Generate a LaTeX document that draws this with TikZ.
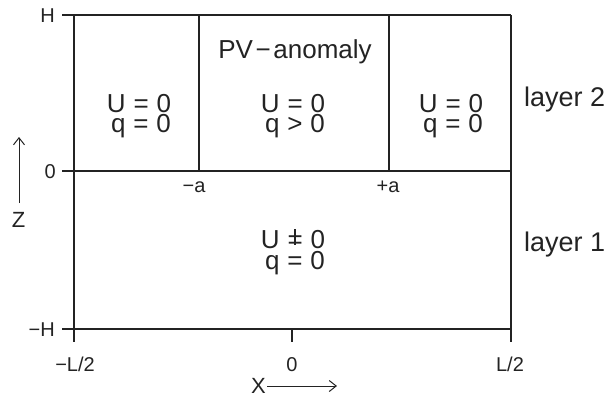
\documentclass[tikz,border=0pt]{standalone}
\usepackage{fontspec}
\setmainfont{Liberation Sans}
\usetikzlibrary{arrows.meta}
\definecolor{ink}{RGB}{35,35,35}
\newcommand{\neqbar}{\ooalign{=\cr\hidewidth\rule[0.12em]{0.07em}{0.6em}\hidewidth\cr}}
\newcommand{\gapsp}{\hspace{0.3em}}
\tikzset{
  frame/.style={line width=1.9pt, draw=ink},
  big/.style={inner sep=0pt, anchor=base, text=ink, font=\fontsize{26}{26}\selectfont},
  pair/.style={inner sep=0pt, anchor=base, text=ink, align=center, font=\fontsize{26}{20}\selectfont},
  lay/.style={inner sep=0pt, anchor=base west, text=ink, font=\fontsize{27}{27}\selectfont},
  small/.style={inner sep=0pt, anchor=base, text=ink, font=\fontsize{20}{20}\selectfont},
  axlbl/.style={inner sep=0pt, anchor=base, text=ink, font=\fontsize{22}{22}\selectfont},
  axarrow/.style={line width=1pt, draw=ink, -{Straight Barb[length=7pt,width=11pt,line width=1pt]}},
}
\begin{document}
\begin{tikzpicture}[x=1pt,y=-1pt]
\useasboundingbox (0,0) rectangle (609,397);
% frame coordinates
\coordinate (tl) at (74,15);
\coordinate (tr) at (511,15);
\coordinate (tlt) at (62,15);
\coordinate (ml) at (62,171);
\coordinate (mr) at (511,171);
\coordinate (bl) at (62,329);
\coordinate (br) at (511,329);
\coordinate (lbot) at (74,342);
\coordinate (rbot) at (511,342);
\coordinate (ctop) at (292,329);
\coordinate (cbot) at (292,342);
\coordinate (atop) at (199,15);
\coordinate (abot) at (199,171);
\coordinate (btop) at (389,15);
\coordinate (bbot) at (389,171);
% lines
\draw[frame] (tlt) -- (tr);
\draw[frame] (ml) -- (mr);
\draw[frame] (bl) -- (br);
\draw[frame] (tl) -- (lbot);
\draw[frame] (tr) -- (rbot);
\draw[frame] (ctop) -- (cbot);
\draw[frame] (atop) -- (abot);
\draw[frame] (btop) -- (bbot);
% region texts
\node[big] (pv) at (295,58) {PV\hspace{0.1em}−\hspace{0.1em}anomaly};
\node[pair] (c1) at (139,132) {U\gapsp=\gapsp0\\\hspace{0.15em}q\gapsp=\gapsp0};
\node[pair] (c2) at (293,132) {U\gapsp=\gapsp0\\\hspace{0.15em}q\gapsp>\gapsp0};
\node[pair] (c3) at (451,132) {U\gapsp=\gapsp0\\\hspace{0.15em}q\gapsp=\gapsp0};
\node[pair] (c4) at (293,269) {U\gapsp\neqbar\gapsp0\\[1pt]\hspace{0.15em}q\gapsp=\gapsp0};
\node[lay] (l2) at (524,106) {layer 2};
\node[lay] (l1) at (524,251) {layer 1};
% tick labels
\node[small,anchor=base east] (hH) at (55,22) {H};
\node[small,anchor=base east] (h0) at (56,178) {0};
\node[small,anchor=base east] (hmH) at (55,336) {−H};
\node[small] (xl) at (75,371) {−L/2};
\node[small] (x0) at (292,371) {0};
\node[small] (xr) at (510,371) {L/2};
\node[small] (ma) at (194,192) {−a};
\node[small] (pa) at (388,192) {+a};
% axis arrows
\node[axlbl] (X) at (258.5,393) {X};
\coordinate (xa0) at (267,386);
\coordinate (xa1) at (337,386);
\draw[axarrow] (xa0) -- (xa1);
\node[axlbl] (Z) at (18.5,227) {Z};
\coordinate (za0) at (19,203);
\coordinate (za1) at (19,137);
\draw[axarrow] (za0) -- (za1);
\end{tikzpicture}
\end{document}
